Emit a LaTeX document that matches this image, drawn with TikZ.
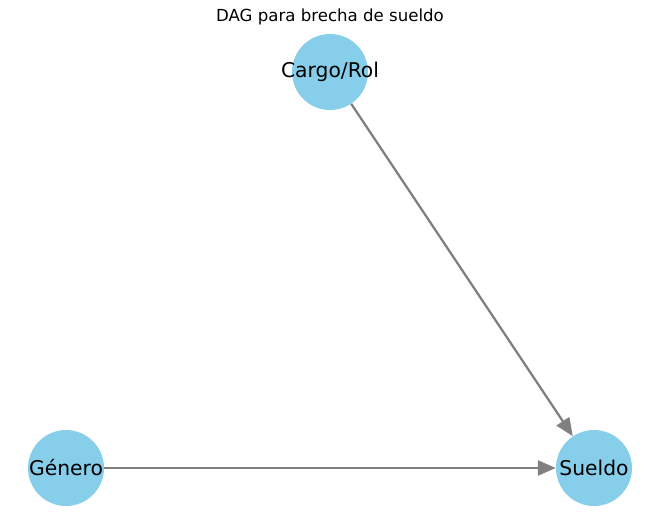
\documentclass[tikz,border=0pt]{standalone}
\usepackage{fontspec}
\setmainfont{DejaVu Sans}
\usetikzlibrary{arrows.meta}
\definecolor{skyblue}{HTML}{87CEEB}
\definecolor{edgegray}{HTML}{808080}
\begin{document}
\begin{tikzpicture}[x=1pt,y=-1pt,
  vertex/.style={circle,fill=skyblue,minimum size=76pt,inner sep=0pt},
  vlabel/.style={font=\fontsize{20.3}{24}\selectfont,inner sep=0pt},
  edge/.style={draw=edgegray,line width=2.3pt,-{Triangle[length=18pt,width=15pt]},shorten >=0pt}]
\useasboundingbox (0,0) rectangle (660,520);
\node[font=\fontsize{16.6}{20}\selectfont] (title) at (330,17) {DAG para brecha de sueldo};
\node[vertex] (cargo) at (330,72) {};
\node[vertex] (genero) at (66,468) {};
\node[vertex] (sueldo) at (594,468) {};
\node[vlabel] (cargoL) at (cargo) {Cargo/Rol};
\node[vlabel] (generoL) at (genero) {Género};
\node[vlabel] (sueldoL) at (sueldo) {Sueldo};
\draw[edge] (cargo) -- (sueldo);
\draw[edge] (genero) -- (sueldo);
\end{tikzpicture}
\end{document}
